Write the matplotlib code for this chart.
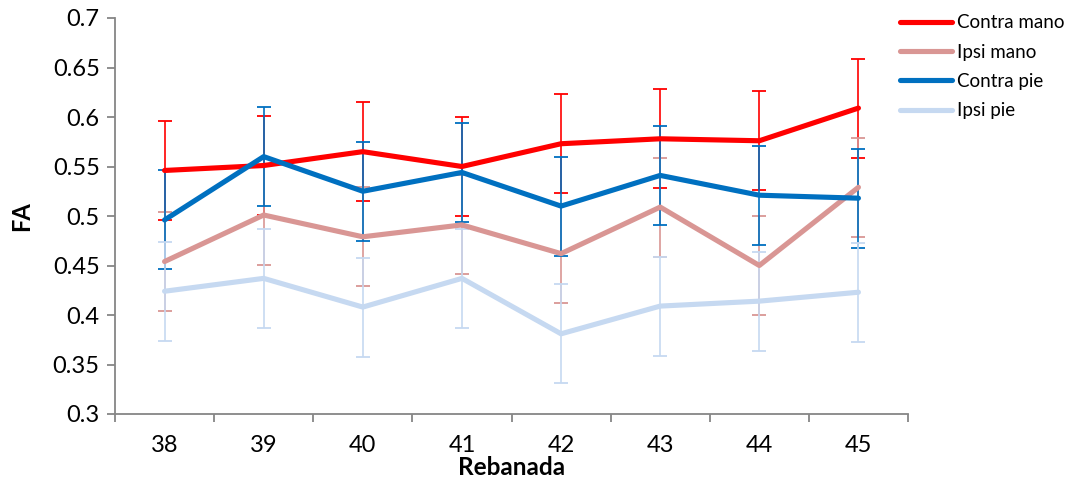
import matplotlib
matplotlib.use("Agg")
import matplotlib.pyplot as plt
import numpy as np

categories = ["38", "39", "40", "41", "42", "43", "44", "45"]
series_names = ["Contra mano", "Ipsi mano", "Contra pie", "Ipsi pie"]
contra_mano = [0.546, 0.551, 0.565, 0.550, 0.573, 0.578, 0.576, 0.609]
ipsi_mano = [0.454, 0.501, 0.479, 0.491, 0.462, 0.509, 0.450, 0.529]
contra_pie = [0.496, 0.560, 0.525, 0.544, 0.510, 0.541, 0.521, 0.518]
ipsi_pie = [0.424, 0.437, 0.408, 0.437, 0.381, 0.409, 0.414, 0.423]
err_contra_mano = [0.05] * 8
err_ipsi_mano = [0.05] * 8
err_contra_pie = [0.05] * 8
err_ipsi_pie = [0.05] * 8

colors = ["#FF0000", "#D99694", "#0070C0", "#C6D9F1"]
values = [contra_mano, ipsi_mano, contra_pie, ipsi_pie]
errors = [err_contra_mano, err_ipsi_mano, err_contra_pie, err_ipsi_pie]

plt.rcParams['font.family'] = ['Lato', 'DejaVu Sans']

fig = plt.figure(figsize=(10.73, 4.84), dpi=100)
ax = fig.add_axes([115/1073, 70/484, (908-115)/1073, (414-18)/484])

x = np.arange(len(categories))
handles = []
for i, (name, v, e, c) in enumerate(zip(series_names, values, errors, colors)):
    ax.errorbar(x, v, yerr=e, fmt='none', ecolor=c, elinewidth=1.2,
                capsize=5, capthick=1.3, zorder=2 + i)
    h, = ax.plot(x, v, color=c, lw=3.7, solid_capstyle='round',
                 solid_joinstyle='round', zorder=6 + i, label=name)
    handles.append(h)

ax.set_xlim(-0.5, len(categories) - 0.5)
ax.set_ylim(0.3, 0.7)
ax.set_yticks(np.arange(0.3, 0.701, 0.05))
ax.set_yticklabels(["0.3", "0.35", "0.4", "0.45", "0.5", "0.55", "0.6", "0.65", "0.7"])
ax.set_xticks(x)
ax.set_xticklabels(categories)
ax.set_xticks(np.arange(-0.5, len(categories)), minor=True)
ax.tick_params(axis='x', which='major', length=0, labelsize=17, pad=15)
ax.tick_params(axis='x', which='minor', length=6, color='#868686', width=1.3)
ax.tick_params(axis='y', which='major', length=6, color='#868686', width=1.3,
               labelsize=17, pad=5)

for s in ['top', 'right']:
    ax.spines[s].set_visible(False)
for s in ['left', 'bottom']:
    ax.spines[s].set_color('#868686')
    ax.spines[s].set_linewidth(1.3)

ax.set_xlabel("Rebanada", fontsize=17.5, fontweight='bold', labelpad=0)
ax.set_ylabel("FA", fontsize=17, fontweight='bold', labelpad=14)

fig.legend(handles=handles, labels=series_names, loc='upper left',
           bbox_to_anchor=(892/1073, 1 - 7/484), frameon=False, fontsize=13.5,
           handlelength=2.8, handletextpad=0.25, labelspacing=0.65,
           borderaxespad=0)

fig.savefig("out.png", dpi=100)
